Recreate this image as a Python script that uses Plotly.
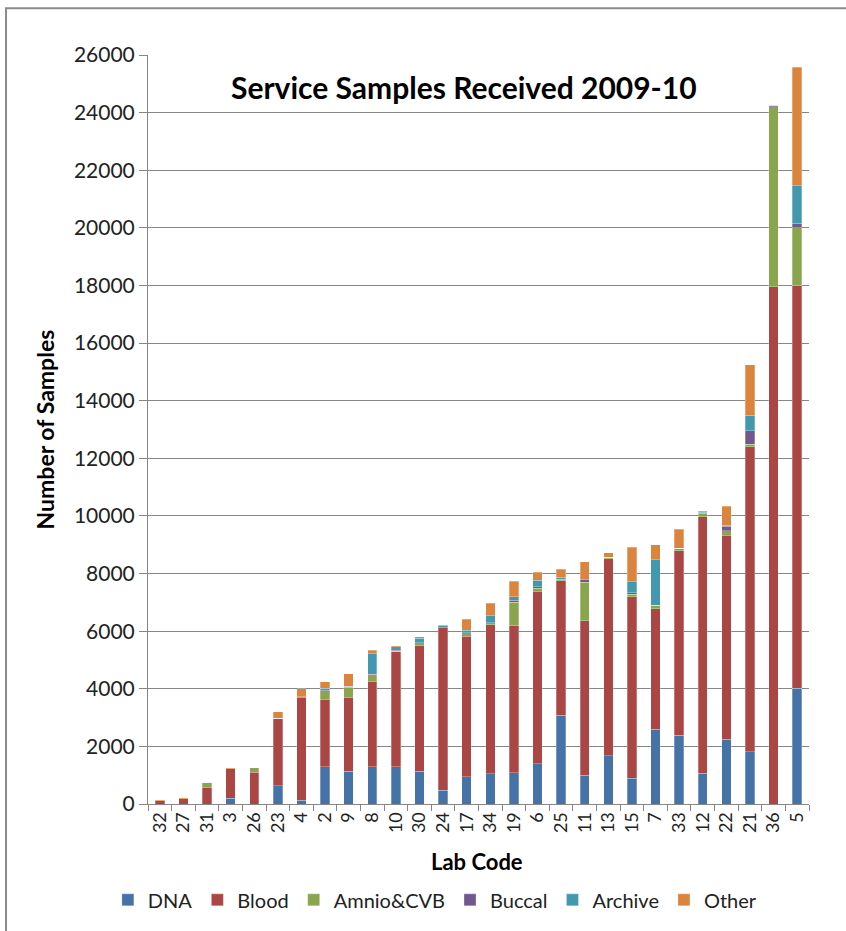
import plotly.graph_objects as go

# Lab codes, ordered by total samples received
lab_codes = ["32", "27", "31", "3", "26", "23", "4", "2", "9", "8", "10", "30", "24", "17",
             "34", "19", "6", "25", "11", "13", "15", "7", "33", "12", "22", "21", "36", "5"]

dna = [0, 0, 0, 200, 0, 640, 130, 1285, 1135, 1290, 1290, 1140, 475, 940,
       1055, 1090, 1400, 3075, 1005, 1675, 900, 2600, 2395, 1075, 2245, 1815, 0, 4025]
blood = [110, 180, 590, 1020, 1100, 2330, 3570, 2350, 2570, 2950, 4020, 4345, 5635, 4890,
         5170, 5100, 5990, 4670, 5350, 6830, 6300, 4185, 6400, 8895, 7090, 10590, 17950, 13965]
amnio_cvb = [0, 0, 160, 0, 160, 0, 20, 265, 345, 250, 0, 115, 0, 80,
             70, 810, 105, 35, 1350, 60, 80, 115, 80, 105, 150, 90, 6250, 2010]
buccal = [0, 0, 0, 0, 0, 0, 0, 45, 35, 20, 20, 0, 0, 35,
          0, 80, 45, 20, 80, 0, 60, 0, 0, 15, 160, 460, 60, 160]
archive = [0, 0, 0, 0, 0, 0, 0, 70, 0, 705, 125, 160, 100, 80,
           245, 115, 230, 80, 0, 0, 380, 1585, 0, 45, 35, 545, 0, 1305]
other = [30, 30, 0, 30, 0, 230, 280, 230, 430, 115, 35, 45, 15, 395,
         430, 535, 280, 265, 625, 150, 1200, 510, 660, 35, 660, 1745, 0, 4105]

series = [
    ("DNA", dna, "#4572A7"),
    ("Blood", blood, "#AA4643"),
    ("Amnio&CVB", amnio_cvb, "#89A54E"),
    ("Buccal", buccal, "#71588F"),
    ("Archive", archive, "#4198AF"),
    ("Other", other, "#DB843D"),
]

FONT = "Lato, 'Open Sans', sans-serif"
GRID = "#868686"

fig = go.Figure()
for name, vals, color in series:
    fig.add_trace(go.Bar(
        name=name, x=lab_codes, y=vals,
        marker=dict(color=color, line=dict(color="rgba(255,255,255,0.35)", width=0.8)),
    ))

fig.update_layout(
    barmode="stack",
    bargap=0.6,
    width=846, height=931,
    margin=dict(l=148, r=37, t=55, b=127, autoexpand=False),
    paper_bgcolor="white",
    plot_bgcolor="white",
    font=dict(family=FONT, color="#222222"),
    showlegend=True,
    legend=dict(
        orientation="h", x=0.434, xanchor="center", y=-0.128, yanchor="middle",
        font=dict(size=20, color="#222222"), itemwidth=30, traceorder="normal",
    ),
    xaxis=dict(
        type="category",
        tickangle=-90,
        tickfont=dict(size=18, color="#222222"),
        ticks="outside", tickson="boundaries", ticklen=6, tickcolor=GRID,
        showline=True, linecolor=GRID, linewidth=1,
        showgrid=False, automargin=False,
    ),
    yaxis=dict(
        range=[0, 26000], dtick=2000, tickformat="d",
        tickfont=dict(size=21, color="#222222"),
        ticks="outside", ticklen=8, tickcolor=GRID,
        showline=True, linecolor=GRID, linewidth=1,
        showgrid=True, gridcolor=GRID, gridwidth=1,
        zeroline=False, automargin=False,
    ),
    annotations=[
        dict(text="<b>Service Samples Received 2009-10</b>", xref="paper", yref="paper",
             x=0.478, y=0.957, xanchor="center", yanchor="middle", showarrow=False,
             font=dict(size=30, color="#000000", family=FONT)),
        dict(text="<b>Lab Code</b>", xref="paper", yref="paper",
             x=0.498, y=-0.0774, xanchor="center", yanchor="middle", showarrow=False,
             font=dict(size=22, color="#000000", family=FONT)),
        dict(text="<b>Number of Samples</b>", xref="paper", yref="paper",
             x=-0.156, y=0.5, xanchor="center", yanchor="middle", showarrow=False,
             textangle=-90, font=dict(size=23, color="#000000", family=FONT)),
    ],
    shapes=[
        dict(type="rect", xref="paper", yref="paper",
             x0=-0.2148, x1=1.2, y0=-0.3, y1=1.0625,
             line=dict(color="#8c8c8c", width=2), fillcolor="rgba(0,0,0,0)", layer="below"),
    ],
)

fig.write_html("out.html")
